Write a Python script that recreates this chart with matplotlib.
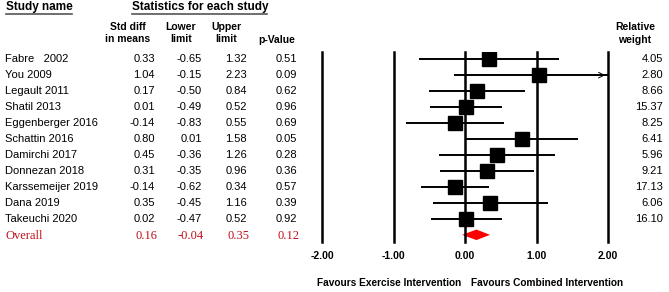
import matplotlib
matplotlib.use("Agg")
import matplotlib.pyplot as plt
from matplotlib.patches import Polygon
import matplotlib.transforms as mtransforms

studies = ["Fabre   2002", "You 2009", "Legault 2011", "Shatil 2013", "Eggenberger 2016",
           "Schattin 2016", "Damirchi 2017", "Donnezan 2018", "Karssemeijer 2019",
           "Dana 2019", "Takeuchi 2020"]
smd = [0.33, 1.04, 0.17, 0.01, -0.14, 0.80, 0.45, 0.31, -0.14, 0.35, 0.02]
lower = [-0.65, -0.15, -0.50, -0.49, -0.83, 0.01, -0.36, -0.35, -0.62, -0.45, -0.47]
upper = [1.32, 2.23, 0.84, 0.52, 0.55, 1.58, 1.26, 0.96, 0.34, 1.16, 0.52]
pvals = [0.51, 0.09, 0.62, 0.96, 0.69, 0.05, 0.28, 0.36, 0.57, 0.39, 0.92]
weights = [4.05, 2.80, 8.66, 15.37, 8.25, 6.41, 5.96, 9.21, 17.13, 6.06, 16.10]
overall = [0.16, -0.04, 0.35, 0.12]  # smd, lower, upper, p
ticks = [-2.0, -1.0, 0.0, 1.0, 2.0]

W, H = 669, 292
fig = plt.figure(figsize=(W / 100, H / 100), dpi=100)
plt.rcParams['font.family'] = ['Liberation Sans', 'DejaVu Sans']

# forest panel: x from -2 to 2 spans px 322..608, lines from y=52..242
ax = fig.add_axes([322 / W, 1 - 242 / H, 286 / W, 190 / H])
ax.set_xlim(-2, 2)
ax.set_ylim(11.45, -0.45)
ax.axis("off")

for t in ticks:
    ax.axvline(t, color="black", lw=1.8, clip_on=False)

n = len(studies)
for i in range(n):
    hi = min(upper[i], 2.0)
    ax.plot([lower[i], hi], [i, i], color="black", lw=1.4, solid_capstyle="butt")
    if upper[i] > 2.0:
        ax.annotate("", xy=(2.0, i), xytext=(1.8, i),
                    arrowprops=dict(arrowstyle="->", color="black", lw=0.7,
                                    mutation_scale=10))
    ms = 9.2 + 0.09 * weights[i]
    ax.plot(smd[i], i, marker="s", color="black", ms=ms, mec="black")

# overall diamond
yo = n
dia = Polygon([[overall[1], yo], [overall[0], yo - 0.33], [overall[2], yo],
               [overall[0], yo + 0.33]], closed=True, color="#ff0000", lw=0)
ax.add_patch(dia)

# tick labels
for t in ticks:
    fig.text((322 + (t + 2) * 71.5) / W, 1 - 256 / H, f"{t:.2f}", ha="center",
             va="center", fontsize=7.5, fontweight="bold")

fig.text(389 / W, 1 - 283 / H, "Favours Exercise Intervention", ha="center",
         va="center", fontsize=7.3, fontweight="bold")
fig.text(547 / W, 1 - 283 / H, "Favours Combined Intervention", ha="center",
         va="center", fontsize=7.3, fontweight="bold")

# table text in figure-x / row-y coordinates
tr = mtransforms.blended_transform_factory(fig.transFigure, ax.transData)
cols = [155, 202, 247, 297]
fs = 8.0
for i in range(n):
    fig.text(5 / W, i, studies[i], transform=tr, ha="left", va="center", fontsize=fs)
    vals = [smd[i], lower[i], upper[i], pvals[i]]
    for x, v in zip(cols, vals):
        fig.text(x / W, i, f"{v:.2f}", transform=tr, ha="right", va="center", fontsize=fs)
    fig.text(663 / W, i, f"{weights[i]:.2f}", transform=tr, ha="right", va="center",
             fontsize=fs)

red = "#c0101a"
fig.text(6 / W, n + 0.1, "Overall", transform=tr, ha="left", va="center", fontsize=9,
         color=red, family="Liberation Serif")
for x, v in zip(cols, overall):
    fig.text((x + 2) / W, n + 0.1, f"{v:.2f}", transform=tr, ha="right", va="center",
             fontsize=9, color=red, family="Liberation Serif")

# headers
fig.text(6 / W, 1 - 7 / H, "Study name", ha="left", va="center", fontsize=8.5,
         fontweight="bold")
fig.text(200 / W, 1 - 7 / H, "Statistics for each study", ha="center", va="center",
         fontsize=8.5, fontweight="bold")
fig.add_artist(plt.Line2D([6 / W, 72 / W], [1 - 14 / H, 1 - 14 / H], color="#555555", lw=1.2))
fig.add_artist(plt.Line2D([132 / W, 267 / W], [1 - 14 / H, 1 - 14 / H], color="#555555", lw=1.2))

hs = 7.5
heads = [("Std diff", "in means", 128), ("Lower", "limit", 181), ("Upper", "limit", 226)]
for a, b, x in heads:
    fig.text(x / W, 1 - 27 / H, a, ha="center", va="center", fontsize=hs, fontweight="bold")
    fig.text(x / W, 1 - 39 / H, b, ha="center", va="center", fontsize=hs, fontweight="bold")
fig.text(277 / W, 1 - 40 / H, "p-Value", ha="center", va="center", fontsize=hs,
         fontweight="bold")
fig.text(635 / W, 1 - 27 / H, "Relative", ha="center", va="center", fontsize=hs,
         fontweight="bold")
fig.text(635 / W, 1 - 40 / H, "weight", ha="center", va="center", fontsize=hs,
         fontweight="bold")

fig.savefig("out.png", dpi=100)
